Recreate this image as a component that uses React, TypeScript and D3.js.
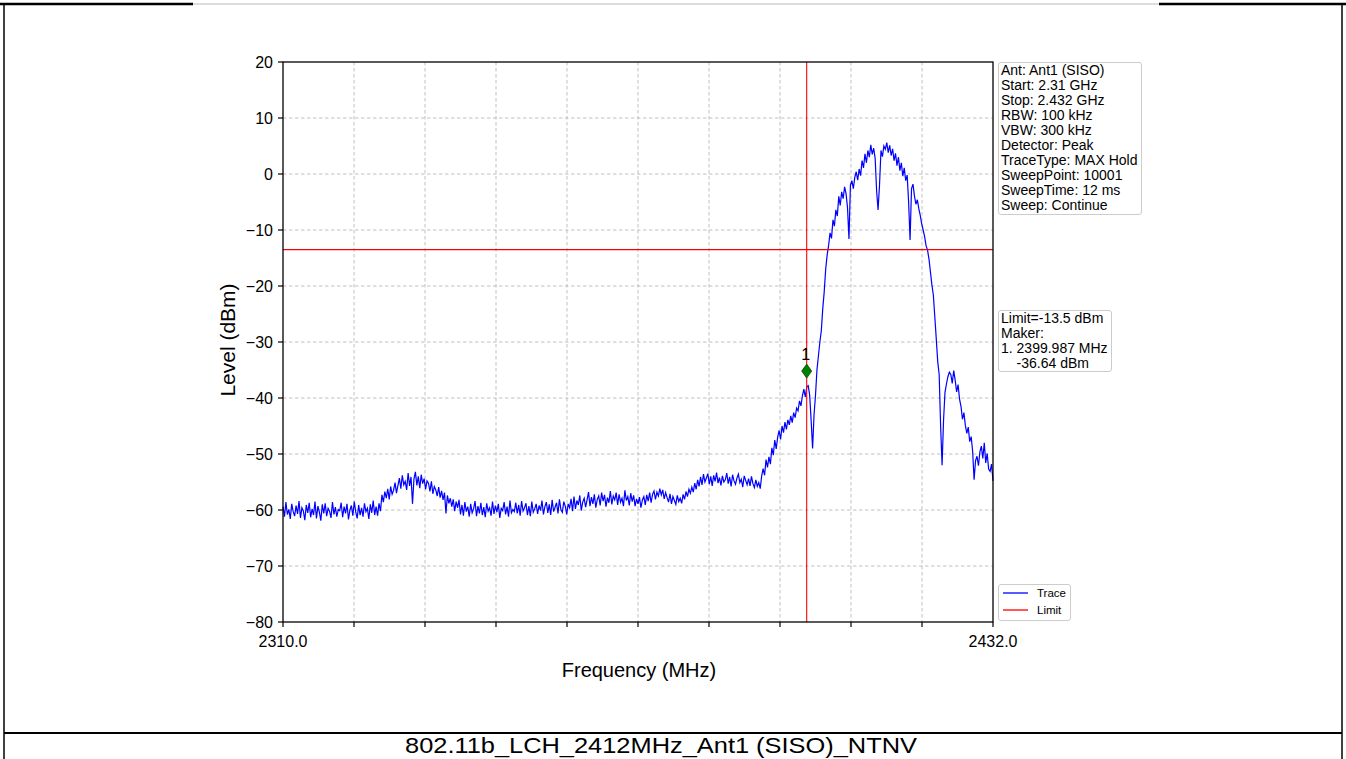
import React from "react";
import * as d3 from "d3";

const freqStart = 2310;
const freqStop = 2432;
const freqStep = 0.25;

// Trace level (dBm), one value per 0.25 MHz from 2310 to 2432 MHz
const traceLevels: number[] = [
  -59.4, -61.2, -58.6, -60.8, -59.9, -61.6, -58.9, -60.3, -61.1, -59.2, -60.7, -58.4, -61.4, -59.6, -60.2, -61.8, -59.1, -60.5, -58.7, -61.3,
  -59.8, -60.9, -58.5, -61.5, -59.3, -60.4, -61.9, -59, -60.6, -58.8, -61.1, -59.7, -60.2, -61.4, -58.6, -60.8, -59.5, -61.2, -59.9, -60.1,
  -58.7, -61.3, -59.4, -60.6, -58.9, -61.7, -60, -59.2, -61, -58.5, -60.4, -61.5, -59.1, -60.9, -59.6, -61.2, -58.8, -60.3, -59.7, -61.6,
  -59, -60.5, -58.3, -60.9, -59.4, -61, -58.8, -60.2, -57.3, -58.6, -56.7, -57.9, -56.2, -58.1, -55.8, -57.2, -56.5, -55.1, -57, -55.6,
  -54.3, -56.2, -53.8, -55.5, -54.9, -56.4, -53.4, -55.7, -54.1, -58.9, -54.5, -53.2, -55.6, -54, -56.1, -53.7, -55.3, -54.4, -56.3, -54.8,
  -55.2, -56.7, -54.9, -57.1, -55.8, -56.4, -57.5, -55.9, -57.8, -56.6, -58.2, -56.9, -60.6, -57.4, -58.8, -57.9, -59.4, -58.1, -60.2, -58.5,
  -59.6, -58.2, -60.8, -59.1, -61, -58.6, -60.3, -59.4, -61.2, -58.9, -60.5, -59.8, -58.4, -61.1, -59.3, -60.6, -58.7, -60.9, -59.5, -61.3,
  -58.8, -60.2, -59.6, -61, -58.5, -60.7, -59.2, -60.4, -58.9, -61.4, -59.7, -60.1, -58.6, -60.8, -59.4, -61.2, -58.3, -60.5, -59.9, -60.3,
  -58.7, -60.6, -59.1, -61, -58.4, -60.2, -59.6, -58.8, -60.9, -59.3, -61.1, -58.5, -60.4, -59.8, -58.9, -60.7, -59.2, -60.1, -58.3, -60.8,
  -59.4, -58.6, -60.5, -59, -60.9, -58.2, -60.3, -59.5, -58.7, -60.6, -58.1, -59.9, -60.4, -58.5, -59.3, -60.8, -58.9, -59.6, -58, -60.2,
  -57.6, -59.8, -58.3, -59.1, -57.4, -60.1, -58.6, -57.9, -59.5, -58.2, -56.8, -59.3, -57.7, -58.9, -57.2, -59.6, -58.1, -57.5, -59.2, -56.9,
  -58.4, -57.3, -59.4, -57.8, -58.7, -56.6, -59, -57.5, -58.2, -56.9, -59.1, -57.2, -58.6, -57.9, -59.3, -56.5, -58.3, -57.6, -59.2, -57,
  -58.5, -57.4, -59.3, -58, -58.9, -57.7, -59.6, -58.2, -57.6, -59.1, -57.3, -58.4, -56.9, -58.7, -57.2, -56.6, -58.1, -56.8, -57.5, -56.2,
  -57.3, -56.4, -58, -56.9, -57.8, -58.6, -57.1, -58.9, -57.6, -58.3, -59, -57.4, -58.5, -57.9, -58.8, -57.2, -58.1, -56.7, -57.6, -56.3,
  -57, -55.9, -56.8, -55.2, -56.3, -54.6, -55.8, -54.1, -55.5, -53.6, -55, -54.3, -53.5, -55.4, -54, -55.7, -53.8, -54.9, -53.3, -55.2,
  -54.2, -55.6, -53.9, -55, -54.6, -53.4, -55.3, -54.1, -55.8, -53.7, -54.8, -55.4, -54.3, -53.6, -55.1, -54.5, -55.9, -53.9, -54.7, -55.5,
  -54.4, -55.7, -54, -55.3, -56, -54.6, -55.8, -55.1, -56.2, -53.9, -52.6, -53.8, -51, -52.4, -50.5, -51.8, -48.9, -50.2, -47.5, -49.1,
  -47, -45.8, -47.4, -45, -46.2, -44.3, -45.6, -43.9, -44.8, -43.2, -44.4, -42.6, -43.5, -41.8, -42.3, -40.5, -41.4, -39.6, -38.4, -39.8,
  -38, -37.8, -39.5, -44, -49, -43, -39.5, -35, -32.5, -30, -28, -24, -21, -17, -14.5, -12.8, -10.5, -11.5, -8.2, -9.3,
  -6.4, -7.5, -4, -5.6, -3.2, -4.4, -2.3, -3.5, -6, -11.6, -2, -1.2, -2.6, -0.6, 0.4, -1.1, 0.9, -0.3, 2.4, 1.1,
  3.6, 2, 4.2, 3, 5.2, 3.5, 4.6, 2.8, -3, -6.4, -2, 4.2, 3.1, 5, 4.4, 5.6, 3.8, 5.1, 3.3, 4.5,
  2.4, 3.7, 1.5, 3, 0.6, 2, -0.4, 1.1, -1.2, -0.2, -5, -11.8, -2.6, -1.8, -3.9, -5.4, -4.6, -6.2, -7.4, -8.9,
  -10, -11.2, -12.8, -13.6, -15.2, -17.5, -19.8, -21.6, -25.5, -29.4, -33.5, -35.8, -45, -52, -44, -39, -37.5, -36.2, -35.4, -35.8,
  -37.4, -35.1, -36.8, -38.9, -37.6, -40.2, -41.5, -43.8, -42.6, -44.9, -46.3, -45.2, -47.8, -46.9, -49.5, -54.6, -51.2, -50.4, -52.1, -49.6,
  -48.6, -50.8, -48, -51.6, -49.9, -52.7, -53.1, -51.8, -54.8,
];

const yTicks = [20, 10, 0, -10, -20, -30, -40, -50, -60, -70, -80];
const xTickCount = 10;
const xLabelTicks = ["2310.0", "2432.0"];
const limitLevel = -13.5;
const markerFreq = 2399.987;
const markerLevel = -35.2;
const markerLabel = "1";

const infoLines = [
  "Ant: Ant1 (SISO)",
  "Start: 2.31 GHz",
  "Stop: 2.432 GHz",
  "RBW: 100 kHz",
  "VBW: 300 kHz",
  "Detector: Peak",
  "TraceType: MAX Hold",
  "SweepPoint: 10001",
  "SweepTime: 12 ms",
  "Sweep: Continue",
];
const limitLines = ["Limit=-13.5 dBm", "Maker:", "1. 2399.987 MHz", "    -36.64 dBm"];
const legendItems = [
  { name: "Trace", color: "#0000ff" },
  { name: "Limit", color: "#ff0000" },
];
const caption = "802.11b_LCH_2412MHz_Ant1 (SISO)_NTNV";

const FONT = "'Liberation Sans', Arial, Helvetica, sans-serif";

export default function App() {
  const W = 1346;
  const H = 759;
  const left = 283, right = 993, top = 62, bottom = 622;

  const x = d3.scaleLinear().domain([freqStart, freqStop]).range([left, right]);
  const y = d3.scaleLinear().domain([-80, 20]).range([bottom, top]);

  const points: [number, number][] = traceLevels.map((v, i) => [freqStart + i * freqStep, v]);
  const line = d3
    .line<[number, number]>()
    .x((d) => x(d[0]))
    .y((d) => y(d[1]));

  const xTicks = d3.range(xTickCount + 1).map((k) => freqStart + (k * (freqStop - freqStart)) / xTickCount);

  const mx = x(markerFreq);
  const my = y(markerLevel);

  return (
    <svg
      width={W}
      height={H}
      style={{ position: "absolute", left: 0, top: 0, background: "#fff" }}
      fontFamily={FONT}
    >
      <rect x={0} y={0} width={W} height={H} fill="#ffffff" />
      {/* page frame */}
      <line x1={0} x2={193} y1={4} y2={4} stroke="#000" strokeWidth={2.5} />
      <line x1={1159} x2={W} y1={4} y2={4} stroke="#000" strokeWidth={2.5} />
      <line x1={193} x2={1159} y1={4} y2={4} stroke="#bbb" strokeWidth={1} />
      <line x1={4} x2={4} y1={3} y2={H} stroke="#000" strokeWidth={1.5} />
      <line x1={1342} x2={1342} y1={3} y2={H} stroke="#000" strokeWidth={1.5} />
      <line x1={4} x2={1342} y1={733} y2={733} stroke="#000" strokeWidth={2} />
      <text
        x={405}
        y={753}
        fontSize={22}
        fill="#000"
        textLength={512}
        lengthAdjust="spacingAndGlyphs"
      >
        {caption}
      </text>

      {/* grid */}
      {xTicks.slice(1, -1).map((t) => (
        <line key={"gx" + t} x1={x(t)} x2={x(t)} y1={top} y2={bottom} stroke="#b0b0b0" strokeWidth={0.8} strokeDasharray="3.5,2.5" />
      ))}
      {yTicks.slice(1, -1).map((t) => (
        <line key={"gy" + t} x1={left} x2={right} y1={y(t)} y2={y(t)} stroke="#b0b0b0" strokeWidth={0.8} strokeDasharray="3.5,2.5" />
      ))}

      {/* trace */}
      <path d={line(points) || ""} fill="none" stroke="#0000ff" strokeWidth={1.2} />

      {/* limit & marker lines */}
      <line x1={left} x2={right} y1={y(limitLevel)} y2={y(limitLevel)} stroke="#ff0000" strokeWidth={1.1} />
      <line x1={mx} x2={mx} y1={top} y2={bottom} stroke="#ff0000" strokeWidth={1.1} />
      <path
        d={`M${mx},${my - 7} L${mx + 5},${my} L${mx},${my + 7} L${mx - 5},${my} Z`}
        fill="#008000"
        stroke="#004d00"
        strokeWidth={0.8}
      />
      <text x={mx - 1} y={my - 11} textAnchor="middle" fontSize={16} fill="#000">
        {markerLabel}
      </text>

      {/* spines */}
      <rect x={left} y={top} width={right - left} height={bottom - top} fill="none" stroke="#000" strokeWidth={1.3} />

      {/* y ticks */}
      {yTicks.map((t) => (
        <g key={"yt" + t}>
          <line x1={left - 5} x2={left} y1={y(t)} y2={y(t)} stroke="#000" strokeWidth={1.2} />
          <text x={left - 10} y={y(t) + 5.5} textAnchor="end" fontSize={16} fill="#000">
            {t < 0 ? "\u2212" + Math.abs(t) : String(t)}
          </text>
        </g>
      ))}
      {/* x ticks */}
      {xTicks.map((t) => (
        <line key={"xt" + t} x1={x(t)} x2={x(t)} y1={bottom} y2={bottom + 5} stroke="#000" strokeWidth={1.2} />
      ))}
      <text x={x(freqStart)} y={bottom + 25} textAnchor="middle" fontSize={16} fill="#000">
        {xLabelTicks[0]}
      </text>
      <text x={x(freqStop)} y={bottom + 25} textAnchor="middle" fontSize={16} fill="#000">
        {xLabelTicks[1]}
      </text>

      {/* axis labels */}
      <text x={639} y={677} textAnchor="middle" fontSize={20} fill="#000">
        Frequency (MHz)
      </text>
      <text transform={`translate(235,340) rotate(-90)`} textAnchor="middle" fontSize={21} fill="#000">
        Level (dBm)
      </text>

      {/* info box */}
      <rect x={998.5} y={62.5} width={143} height={152} rx={2.5} fill="#fff" stroke="#ccc" strokeWidth={1} />
      {infoLines.map((s, i) => (
        <text key={"info" + i} x={1001} y={75 + i * 15} fontSize={14} fill="#000">
          {s}
        </text>
      ))}

      {/* limit box */}
      <rect x={998.5} y={310.5} width={113} height={61} rx={2.5} fill="#fff" stroke="#ccc" strokeWidth={1} />
      {limitLines.map((s, i) => (
        <text key={"lim" + i} x={1001} y={323 + i * 15} fontSize={14} fill="#000" style={{ whiteSpace: "pre" }}>
          {s}
        </text>
      ))}

      {/* legend */}
      <rect x={998.5} y={584.5} width={72} height={36} rx={2.5} fill="#fff" stroke="#ccc" strokeWidth={1} />
      {legendItems.map((it, i) => (
        <g key={"lg" + i}>
          <line x1={1003} x2={1028} y1={593 + i * 17} y2={593 + i * 17} stroke={it.color} strokeWidth={1.3} />
          <text x={1037} y={597 + i * 17} fontSize={11.5} fill="#000">
            {it.name}
          </text>
        </g>
      ))}
    </svg>
  );
}
